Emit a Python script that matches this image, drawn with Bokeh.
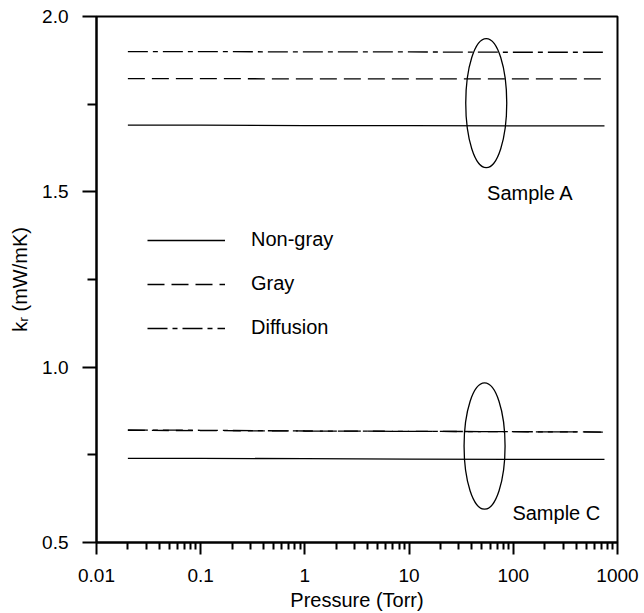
from bokeh.plotting import figure
from bokeh.models import FixedTicker, Legend, LegendItem, CustomJSTickFormatter, PrintfTickFormatter, Range1d
from bokeh.core.properties import value
from bokeh.embed import file_html
from bokeh.resources import INLINE

FONT = "Liberation Sans"

# ---- data ----
pressure = [0.02, 0.1, 1, 10, 100, 750]
a_nongray = [1.690, 1.690, 1.689, 1.689, 1.688, 1.688]
a_gray = [1.823, 1.823, 1.822, 1.822, 1.822, 1.822]
a_diffusion = [1.900, 1.900, 1.899, 1.899, 1.898, 1.898]
c_nongray = [0.740, 0.740, 0.739, 0.738, 0.737, 0.737]
c_gray = [0.820, 0.819, 0.818, 0.817, 0.816, 0.815]
c_diffusion = [0.821, 0.820, 0.818, 0.817, 0.816, 0.815]

ellipse_x = [55, 53]
ellipse_y = [1.753, 0.775]
ellipse_h = [0.368, 0.36]

sample_x = [56, 98]
sample_y = [1.497, 0.584]
sample_text = ["Sample A", "Sample C"]

x_ticks = [0.01, 0.1, 1, 10, 100, 1000]
y_ticks = [0.5, 1.0, 1.5, 2.0]
y_minor = [0.75, 1.25, 1.75]

p = figure(width=644, height=613, x_axis_type="log",
           x_range=Range1d(0.01, 1000), y_range=Range1d(0.5, 2.0),
           output_backend="svg", toolbar_location=None,
           min_border_left=96, min_border_right=27, min_border_top=16, min_border_bottom=71)
p.background_fill_color = "white"
p.border_fill_color = "white"
p.grid.visible = False
p.outline_line_color = "black"
p.outline_line_width = 2

x_minor = [m * d for d in x_ticks[:-1] for m in range(2, 10)]
p.xaxis.ticker = FixedTicker(ticks=x_ticks, minor_ticks=x_minor)
p.xaxis.formatter = CustomJSTickFormatter(code="return String(Number(tick.toPrecision(6)));")
p.yaxis.ticker = FixedTicker(ticks=y_ticks, minor_ticks=y_minor)
p.yaxis.formatter = PrintfTickFormatter(format="%.1f")

for ax in (p.xaxis[0], p.yaxis[0]):
    ax.axis_line_width = 2
    ax.axis_line_color = "black"
    ax.major_tick_line_width = 2
    ax.minor_tick_line_width = 2
    ax.major_tick_in = 0
    ax.minor_tick_in = 0
    ax.major_label_text_font = FONT
    ax.major_label_text_font_size = "19px"
    ax.major_label_text_color = "black"
    ax.axis_label_text_font = FONT
    ax.axis_label_text_font_size = "20px"
    ax.axis_label_text_font_style = "normal"
    ax.axis_label_text_color = "black"

p.xaxis.major_tick_out = 12
p.xaxis.minor_tick_out = 7
p.xaxis.major_label_standoff = 14
p.xaxis.axis_label = "Pressure (Torr)"
p.xaxis.axis_label_standoff = 4

p.yaxis.major_tick_out = 14
p.yaxis.minor_tick_out = 9
p.yaxis.major_label_standoff = 14
p.yaxis.axis_label = "k\u1d63 (mW/mK)"
p.yaxis.axis_label_standoff = 8

lw = 1.3
r1 = p.line(pressure, a_nongray, line_color="black", line_width=lw)
r2 = p.line(pressure, a_gray, line_color="black", line_width=lw, line_dash="17 7")
r3 = p.line(pressure, a_diffusion, line_color="black", line_width=lw, line_dash="20 5 5 5")
p.line(pressure, c_nongray, line_color="black", line_width=lw)
p.line(pressure, c_gray, line_color="black", line_width=lw, line_dash="17 7")
p.line(pressure, c_diffusion, line_color="black", line_width=lw, line_dash="20 5 5 5")

p.ellipse(x=ellipse_x, y=ellipse_y, width=41, height=ellipse_h,
          width_units="screen", height_units="data",
          fill_color=None, line_color="black", line_width=1.3)

p.text(x=sample_x, y=sample_y, text=sample_text, text_baseline="middle", text_align="left",
       text_font=value(FONT), text_font_size="20px", text_color="black")

legend = Legend(items=[LegendItem(label="Non-gray", renderers=[r1]),
                       LegendItem(label="Gray", renderers=[r2]),
                       LegendItem(label="Diffusion", renderers=[r3])],
                location=(51, 203), orientation="vertical",
                padding=0, margin=0, spacing=21,
                glyph_width=78, glyph_height=20, label_height=20,
                label_standoff=26, label_text_font=FONT, label_text_font_size="20px",
                label_text_color="black",
                background_fill_alpha=0, border_line_alpha=0)
p.add_layout(legend)

open("out.html", "w").write(file_html(p, INLINE))
